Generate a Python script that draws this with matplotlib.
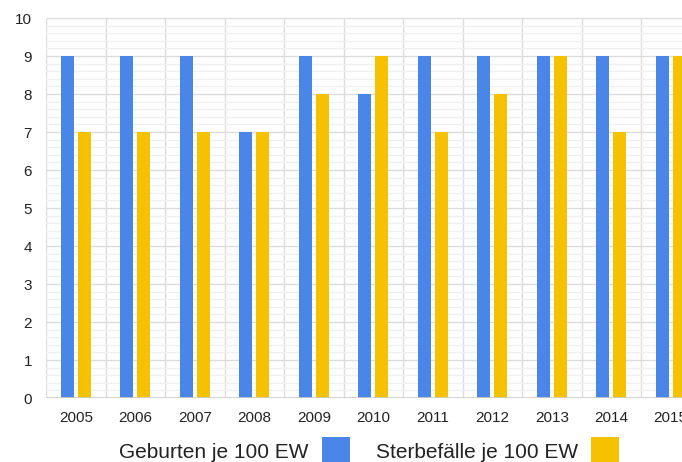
import matplotlib
matplotlib.use("Agg")
import matplotlib.pyplot as plt
from matplotlib.patches import Rectangle
import numpy as np

plt.rcParams['font.family'] = ['Liberation Sans', 'DejaVu Sans']

years = ["2005", "2006", "2007", "2008", "2009", "2010", "2011", "2012", "2013", "2014", "2015"]
geburten = [9, 9, 9, 7, 9, 8, 9, 9, 9, 9, 9]
sterbefaelle = [7, 7, 7, 7, 8, 9, 7, 8, 9, 7, 9]
series_names = ["Geburten je 100 EW", "Sterbefälle je 100 EW"]
blue = "#4a86e8"
yellow = "#f6c200"

W, H = 682, 462
fig = plt.figure(figsize=(W / 100, H / 100), dpi=100)
ax = fig.add_axes([46 / W, 64 / H, 654.5 / W, 380 / H])

x = np.arange(len(years))
bw = 0.22
off = 0.143
ax.bar(x - off, geburten, width=bw, color=blue, zorder=3)
ax.bar(x + off, sterbefaelle, width=bw, color=yellow, zorder=3)

ax.set_xlim(-0.5, len(years) - 0.5)
ax.set_ylim(0, 10)
ax.set_yticks(range(0, 11))
ax.set_yticks(np.arange(0, 10.01, 0.2), minor=True)
ax.set_xticks(x)
ax.set_xticklabels(years)
ax.set_xticks(np.arange(-0.5, len(years), 1.0), minor=True)

ax.grid(True, which='major', axis='y', color='#dcdcdc', linewidth=1, zorder=0)
ax.grid(True, which='minor', axis='y', color='#f0f0f0', linewidth=1, zorder=0)
ax.grid(True, which='minor', axis='x', color='#dcdcdc', linewidth=1, zorder=0)
ax.grid(False, which='major', axis='x')

for s in ax.spines.values():
    s.set_visible(False)
ax.axhline(0, color='#cccccc', linewidth=1.2, zorder=4)

ax.tick_params(axis='both', which='both', length=0)
ax.tick_params(axis='y', labelsize=11, pad=10, labelcolor='#222222')
ax.tick_params(axis='x', labelsize=11, pad=9, labelcolor='#222222')

# legend
fs = 15
fig.text(119 / W, 1 - 458 / H, series_names[0], fontsize=fs, va='baseline', ha='left', color='#222222')
fig.patches.append(Rectangle((322 / W, 1 - 463 / H), 28 / W, 26 / H, transform=fig.transFigure,
                             facecolor=blue, edgecolor='none'))
fig.text(376 / W, 1 - 458 / H, series_names[1], fontsize=fs, va='baseline', ha='left', color='#222222')
fig.patches.append(Rectangle((591 / W, 1 - 463 / H), 28 / W, 26 / H, transform=fig.transFigure,
                             facecolor=yellow, edgecolor='none'))

fig.savefig("out.png", dpi=100)
